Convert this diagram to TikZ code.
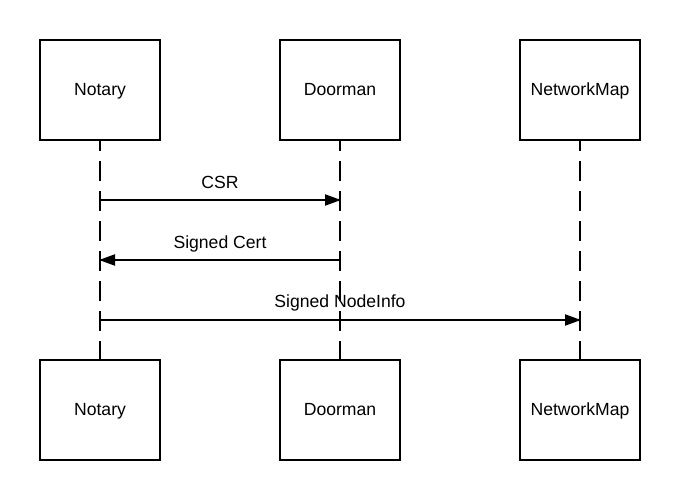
\documentclass[tikz,border=0pt]{standalone}
\usepackage{fontspec}
\setmainfont{Liberation Sans}
\usetikzlibrary{arrows.meta}
\begin{document}
\begin{tikzpicture}[x=1pt,y=-1pt,
  actor/.style={draw,line width=2pt,minimum width=120pt,minimum height=100pt,inner sep=0pt,text height=12.5pt,text depth=2pt,font=\fontsize{17.6}{20}\selectfont},
  life/.style={line width=2pt,dash pattern=on 20pt off 10pt,dash phase=10pt},
  msg/.style={line width=2pt,-{Triangle[length=16pt,width=11pt]},shorten >=-1pt},
  lbl/.style={font=\fontsize{17.6}{20}\selectfont,inner sep=0pt,text height=12.5pt,text depth=3.5pt}]
\useasboundingbox (0,0) rectangle (680,500);
\node[actor] (n1) at (100,90) {Notary};
\node[actor] (d1) at (340,90) {Doorman};
\node[actor] (m1) at (580,90) {NetworkMap};
\node[actor] (n2) at (100,410) {Notary};
\node[actor] (d2) at (340,410) {Doorman};
\node[actor] (m2) at (580,410) {NetworkMap};
\draw[life] (n1.south) -- (n2.north);
\draw[life] (d1.south) -- (d2.north);
\draw[life] (m1.south) -- (m2.north);
\coordinate (a1) at (100,200); \coordinate (b1) at (340,200);
\coordinate (a2) at (340,260); \coordinate (b2) at (100,260);
\coordinate (a3) at (100,320); \coordinate (b3) at (580,320);
\draw[msg] (a1) -- (b1);
\draw[msg] (a2) -- (b2);
\draw[msg] (a3) -- (b3);
\node[lbl] (l1) at (220,184.5) {CSR};
\node[lbl] (l2) at (220,244) {Signed Cert};
\node[lbl] (l3) at (340,302.5) {Signed NodeInfo};
\end{tikzpicture}
\end{document}
